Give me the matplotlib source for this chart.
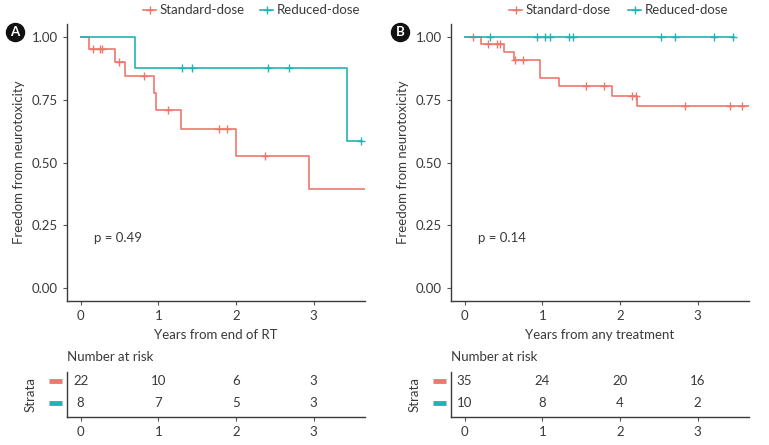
import matplotlib
matplotlib.use("Agg")
import matplotlib.pyplot as plt
from matplotlib.lines import Line2D

plt.rcParams['font.family'] = ['Lato', 'DejaVu Sans']

RED = '#EE776D'
TEAL = '#1FB5B3'
INK = '#3a3a3a'

# -----------------------------
# Panel A: years from end of RT
# -----------------------------
a_std_t = [0, 0.106, 0.447, 0.574, 0.949, 0.97, 1.298, 2.0, 2.94, 3.66]
a_std_s = [1.0, 0.954, 0.902, 0.844, 0.775, 0.71, 0.633, 0.524, 0.393, 0.393]
a_std_cx = [0.16, 0.255, 0.28, 0.50, 0.817, 1.12, 1.787, 1.885, 2.37]
a_red_t = [0, 0.70, 3.43, 3.62]
a_red_s = [1.0, 0.876, 0.584, 0.584]
a_red_cx = [1.31, 1.43, 2.41, 2.68, 3.61]
a_risk_std = [22, 10, 6, 3]
a_risk_red = [8, 7, 5, 3]

# -----------------------------
# Panel B: years from any treatment
# -----------------------------
b_std_t = [0, 0.21, 0.51, 0.633, 0.969, 1.22, 1.894, 2.217, 3.69]
b_std_s = [1.0, 0.972, 0.941, 0.907, 0.838, 0.805, 0.766, 0.724, 0.724]
b_std_cx = [0.11, 0.30, 0.42, 0.45, 0.65, 0.75, 1.56, 1.80, 2.15, 2.20, 2.84, 3.42, 3.57]
b_red_t = [0, 3.47]
b_red_s = [1.0, 1.0]
b_red_cx = [0.33, 0.93, 1.03, 1.10, 1.34, 1.40, 2.53, 2.71, 3.21, 3.45]
b_risk_std = [35, 24, 20, 16]
b_risk_red = [10, 8, 4, 2]

risk_times = [0, 1, 2, 3]
W, H = 769, 445


def step_value(t, s, x):
    v = s[0]
    for ti, si in zip(t, s):
        if x >= ti:
            v = si
    return v


def fig_rect(l, t, r, b):
    return [l / W, 1 - b / H, (r - l) / W, (b - t) / H]


fig = plt.figure(figsize=(W / 100, H / 100), dpi=100)

panels = [
    dict(left=67, right=365, label='A', xlab='Years from end of RT', p='p = 0.49',
         curves=[(a_std_t, a_std_s, a_std_cx, RED), (a_red_t, a_red_s, a_red_cx, TEAL)],
         risk=[a_risk_std, a_risk_red], leg=[143, 260], circ=(15, 32)),
    dict(left=451, right=749, label='B', xlab='Years from any treatment', p='p = 0.14',
         curves=[(b_std_t, b_std_s, b_std_cx, RED), (b_red_t, b_red_s, b_red_cx, TEAL)],
         risk=[b_risk_std, b_risk_red], leg=[509, 628], circ=(400, 32)),
]

for pn in panels:
    ax = fig.add_axes(fig_rect(pn['left'], 24.4, pn['right'], 300.6))
    for t, s, cx, col in pn['curves']:
        ax.step(t, s, where='post', color=col, lw=1.2)
        ax.plot(cx, [step_value(t, s, x) for x in cx], ls='none', marker='+',
                ms=6, mew=1.0, color=col)
    ax.set_xlim(-0.175, 3.66)
    ax.set_ylim(-0.05, 1.05)
    ax.set_xticks([0, 1, 2, 3])
    ax.set_yticks([0, 0.25, 0.5, 0.75, 1.0])
    ax.set_yticklabels(['0.00', '0.25', '0.50', '0.75', '1.00'])
    for sp in ['top', 'right']:
        ax.spines[sp].set_visible(False)
    for sp in ['left', 'bottom']:
        ax.spines[sp].set_color(INK)
        ax.spines[sp].set_linewidth(1.0)
    ax.tick_params(colors='#555555', labelcolor=INK, labelsize=9.5, length=3, width=0.8)
    ax.set_xlabel(pn['xlab'], fontsize=9.5, color=INK, labelpad=5)
    ax.set_ylabel('Freedom from neurotoxicity', fontsize=9.5, color=INK, labelpad=5)
    ax.text(0.17, 0.2, pn['p'], fontsize=9.5, color=INK, va='center', ha='left')

    # risk table
    rt = fig.add_axes(fig_rect(pn['left'], 372, pn['right'], 417))
    rt.set_xlim(-0.175, 3.66)
    rt.set_ylim(0.36, 2.41)
    for row, (vals, col) in enumerate(zip(pn['risk'], [RED, TEAL])):
        yy = 2 - row
        for x, v in zip(risk_times, vals):
            rt.text(x, yy, str(v), ha='center', va='center', fontsize=9.5, color=INK)
        rt.plot([-0.41, -0.245], [yy, yy], color=col, lw=3.5, solid_capstyle='butt',
                clip_on=False)
    rt.set_xticks(risk_times)
    rt.set_yticks([])
    for sp in ['top', 'right']:
        rt.spines[sp].set_visible(False)
    for sp in ['left', 'bottom']:
        rt.spines[sp].set_color(INK)
        rt.spines[sp].set_linewidth(1.0)
    rt.tick_params(colors='#555555', labelcolor=INK, labelsize=9.5, length=3, width=0.8)
    rt.set_ylabel('Strata', fontsize=9.5, color=INK, labelpad=22)
    rt.text(0, 1.2, 'Number at risk', transform=rt.transAxes, fontsize=9.5, color=INK,
            ha='left', va='bottom')

    # legend at top
    for lx, col, name in zip(pn['leg'], [RED, TEAL], ['Standard-dose', 'Reduced-dose']):
        fig.add_artist(Line2D([lx / W, (lx + 13) / W], [1 - 10 / H, 1 - 10 / H],
                              color=col, lw=1.2))
        fig.add_artist(Line2D([(lx + 6.5) / W], [1 - 10 / H], color=col, marker='+',
                              ms=6, mew=1.0))
        fig.text((lx + 17) / W, 1 - 10 / H, name, fontsize=9.5, color=INK,
                 ha='left', va='center')

    # panel letter
    cx, cy = pn['circ']
    fig.add_artist(Line2D([cx / W], [1 - cy / H], marker='o', ms=13, color='#111111',
                          ls='none'))
    fig.text(cx / W, 1 - cy / H, pn['label'], color='white', fontsize=9.5,
             fontweight='bold', ha='center', va='center')

fig.savefig('out.png', dpi=100)
